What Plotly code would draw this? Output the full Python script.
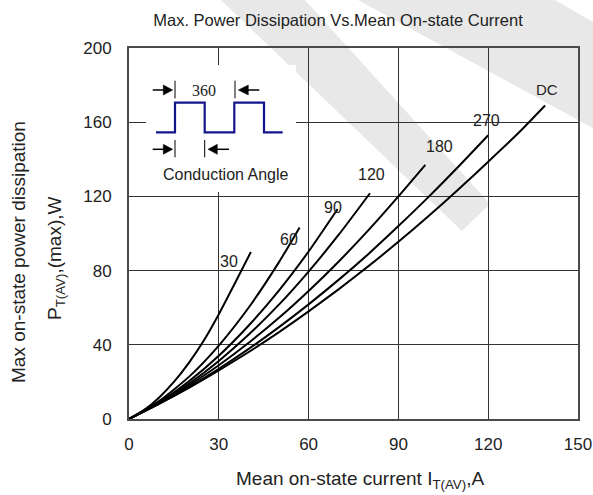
import plotly.graph_objects as go

# ---------------- data ----------------
x_dc = [0, 10, 20, 30, 40, 50, 60, 70, 80, 90, 100, 110, 120, 130, 139]
p_dc = [0, 8.1, 16.8, 26.2, 36.1, 46.7, 58.0, 69.9, 82.4, 95.5, 109.3, 123.7, 138.7, 154.0, 169.0]

x_270 = [0, 10, 20, 30, 40, 50, 60, 70, 80, 90, 100, 110, 120]
p_270 = [0, 8.2, 17.2, 27.1, 37.8, 49.4, 61.8, 75.0, 89.0, 104.0, 119.6, 136.0, 153.0]

x_180 = [0, 10, 20, 30, 40, 50, 60, 70, 80, 90, 99]
p_180 = [0, 8.4, 18.1, 29.0, 41.1, 54.4, 69.0, 84.8, 101.8, 120.0, 137.0]

x_120 = [0, 10, 20, 30, 40, 50, 60, 70, 80.5]
p_120 = [0, 8.6, 19.0, 31.3, 45.5, 61.5, 79.5, 99.2, 121.7]

x_90 = [0, 10, 20, 30, 40, 50, 60, 69.7]
p_90 = [0, 8.9, 20.3, 34.1, 50.4, 69.1, 90.3, 113.2]

x_60 = [0, 10, 20, 30, 40, 50, 57]
p_60 = [0, 9.6, 22.7, 39.6, 60.1, 84.3, 103.3]

x_30 = [0, 5, 10, 15, 20, 25, 30, 35, 40.7]
p_30 = [0, 4.8, 11.5, 20.0, 30.3, 42.3, 56.5, 72.0, 90.0]

curve_names = ["30", "60", "90", "120", "180", "270", "DC"]
curve_x = [x_30, x_60, x_90, x_120, x_180, x_270, x_dc]
curve_p = [p_30, p_60, p_90, p_120, p_180, p_270, p_dc]

x_ticks = [0, 30, 60, 90, 120, 150]
y_ticks = [0, 40, 80, 120, 160, 200]

title_text = "Max. Power Dissipation Vs.Mean On-state Current"
ytitle1 = "Max on-state power dissipation"
ytitle2 = "P<sub>T(AV)</sub>,(max),W"
xtitle = "Mean on-state current I<sub>T(AV)</sub>,A"
inset_period = "360"
inset_caption = "Conduction Angle"

# ---------------- layout geometry ----------------
W, H = 593, 495
L, R, T, B = 129, 15, 48, 76
PW, PH = W - L - R, H - T - B
XMAX, YMAX = 150, 200


def dx(px):
    return (px - L) / PW * XMAX


def dy(py):
    return (H - B - py) / PH * YMAX


def paper_x(px):
    return (px - L) / PW


def paper_y(py):
    return (H - B - py) / PH


FONT = "Liberation Sans, Arial, sans-serif"
TXT = "#222222"

fig = go.Figure()
for name, xs, ps in zip(curve_names, curve_x, curve_p):
    fig.add_trace(go.Scatter(x=xs, y=ps, mode="lines", name=name,
                             line=dict(color="black", width=2, shape="spline", smoothing=0.6),
                             showlegend=False, hoverinfo="skip"))

# curve labels (positions in pixel space of the reference)
label_px = {"30": (229, 261), "60": (289, 239), "90": (333, 207), "120": (371, 174),
            "180": (439, 146), "270": (486, 120), "DC": (547, 89)}
annotations = []
for name in curve_names:
    px, py = label_px[name]
    annotations.append(dict(x=dx(px), y=dy(py), xref="x", yref="y", text=name, showarrow=False,
                            font=dict(family=FONT, size=15 if name == "DC" else 16, color=TXT),
                            xanchor="center", yanchor="middle"))

# axis titles
annotations.append(dict(x=paper_x(18), y=paper_y(252), xref="paper", yref="paper", text=ytitle1,
                        textangle=-90, showarrow=False, xanchor="center", yanchor="middle",
                        font=dict(family=FONT, size=19, color=TXT)))
annotations.append(dict(x=paper_x(56), y=paper_y(258), xref="paper", yref="paper", text=ytitle2,
                        textangle=-90, showarrow=False, xanchor="center", yanchor="middle",
                        font=dict(family=FONT, size=19, color=TXT)))
annotations.append(dict(x=paper_x(360), y=paper_y(480), xref="paper", yref="paper", text=xtitle,
                        showarrow=False, xanchor="center", yanchor="middle",
                        font=dict(family=FONT, size=19, color=TXT)))

# inset texts
annotations.append(dict(x=dx(204), y=dy(90), xref="x", yref="y", text=inset_period, showarrow=False,
                        xanchor="center", yanchor="middle",
                        font=dict(family="Liberation Serif, Times New Roman, serif", size=16, color=TXT)))
annotations.append(dict(x=dx(226), y=dy(174), xref="x", yref="y", text=inset_caption, showarrow=False,
                        xanchor="center", yanchor="middle",
                        font=dict(family=FONT, size=16, color=TXT)))

shapes = []
# watermark (light grey diagonal bands), paper coordinates
WM = "#e8e8e8"


def ppath(points):
    return "M " + " L ".join(f"{paper_x(a):.4f},{paper_y(b):.4f}" for a, b in points) + " Z"


shapes.append(dict(type="path", xref="paper", yref="paper", layer="below", line=dict(width=0),
                   fillcolor=WM, path=ppath([(221, 0), (305, 0), (490, 204), (462, 231)])))
shapes.append(dict(type="path", xref="paper", yref="paper", layer="below", line=dict(width=0),
                   fillcolor=WM, path=ppath([(358, 0), (555, 0), (593, 22), (593, 128)])))

# white inset background hiding gridlines
shapes.append(dict(type="rect", xref="x", yref="y", layer="between", x0=dx(146), x1=dx(296),
                   y0=dy(192), y1=dy(65), line=dict(width=0), fillcolor="white"))


def dpath(points, close=False):
    s = "M " + " L ".join(f"{dx(a):.4f},{dy(b):.4f}" for a, b in points)
    return s + (" Z" if close else "")


# square waveform
wave = [(156, 132.3), (175, 132.3), (175, 102.7), (204.7, 102.7), (204.7, 132.3),
        (234.3, 132.3), (234.3, 102.7), (264, 102.7), (264, 132.3), (282.7, 132.3)]
shapes.append(dict(type="path", xref="x", yref="y", layer="above", path=dpath(wave),
                   line=dict(color="#14148c", width=2.2)))

# dimension arrows (left side, pointing right)
for (ya, y0t, y1t) in [(90, 80.7, 98.3), (149.3, 140, 157.3)]:
    shapes.append(dict(type="line", xref="x", yref="y", layer="above", x0=dx(152.7), x1=dx(164),
                       y0=dy(ya), y1=dy(ya), line=dict(color="black", width=1.5)))
    shapes.append(dict(type="path", xref="x", yref="y", layer="above",
                       path=dpath([(163.3, ya - 5), (172.7, ya), (163.3, ya + 5)], close=True),
                       fillcolor="black", line=dict(color="black", width=0.5)))
    shapes.append(dict(type="line", xref="x", yref="y", layer="above", x0=dx(175), x1=dx(175),
                       y0=dy(y0t), y1=dy(y1t), line=dict(color="black", width=1)))

# right arrows pointing left
for (ya, y0t, y1t, xt, tip, base, tail) in [(90, 80.7, 98.3, 235, 238.3, 248.3, 259.3),
                                           (149.3, 140, 157.3, 204.7, 208, 217.3, 229)]:
    shapes.append(dict(type="line", xref="x", yref="y", layer="above", x0=dx(base - 1), x1=dx(tail),
                       y0=dy(ya), y1=dy(ya), line=dict(color="black", width=1.5)))
    shapes.append(dict(type="path", xref="x", yref="y", layer="above",
                       path=dpath([(base, ya - 5), (tip, ya), (base, ya + 5)], close=True),
                       fillcolor="black", line=dict(color="black", width=0.5)))
    shapes.append(dict(type="line", xref="x", yref="y", layer="above", x0=dx(xt), x1=dx(xt),
                       y0=dy(y0t), y1=dy(y1t), line=dict(color="black", width=1)))

axis_common = dict(showgrid=True, gridcolor="#333333", gridwidth=1, showline=True, linecolor="#4a4a4a",
                   linewidth=2, mirror=True, zeroline=False, ticks="", automargin=False,
                   tickfont=dict(family=FONT, size=17, color=TXT))

fig.update_layout(
    width=W, height=H, autosize=False,
    margin=dict(l=L, r=R, t=T, b=B, pad=0, autoexpand=False),
    paper_bgcolor="white", plot_bgcolor="rgba(0,0,0,0)",
    title=dict(text=title_text, x=paper_x(338), xref="paper", xanchor="center",
               y=1 - 20 / H, yref="container", yanchor="middle",
               font=dict(family=FONT, size=16.5, color=TXT)),
    xaxis=dict(range=[0, XMAX], tickvals=x_ticks, ticktext=[str(v) for v in x_ticks],
               ticklabelstandoff=9, **axis_common),
    yaxis=dict(range=[0, YMAX], tickvals=y_ticks, ticktext=[str(v) for v in y_ticks],
               ticklabelstandoff=12, **axis_common),
    annotations=annotations,
    shapes=shapes,
    showlegend=False,
)

fig.write_html("out.html",
               config={"responsive": False, "displayModeBar": False},
               post_script="document.body.style.margin='0px';document.body.style.overflow='hidden';")
